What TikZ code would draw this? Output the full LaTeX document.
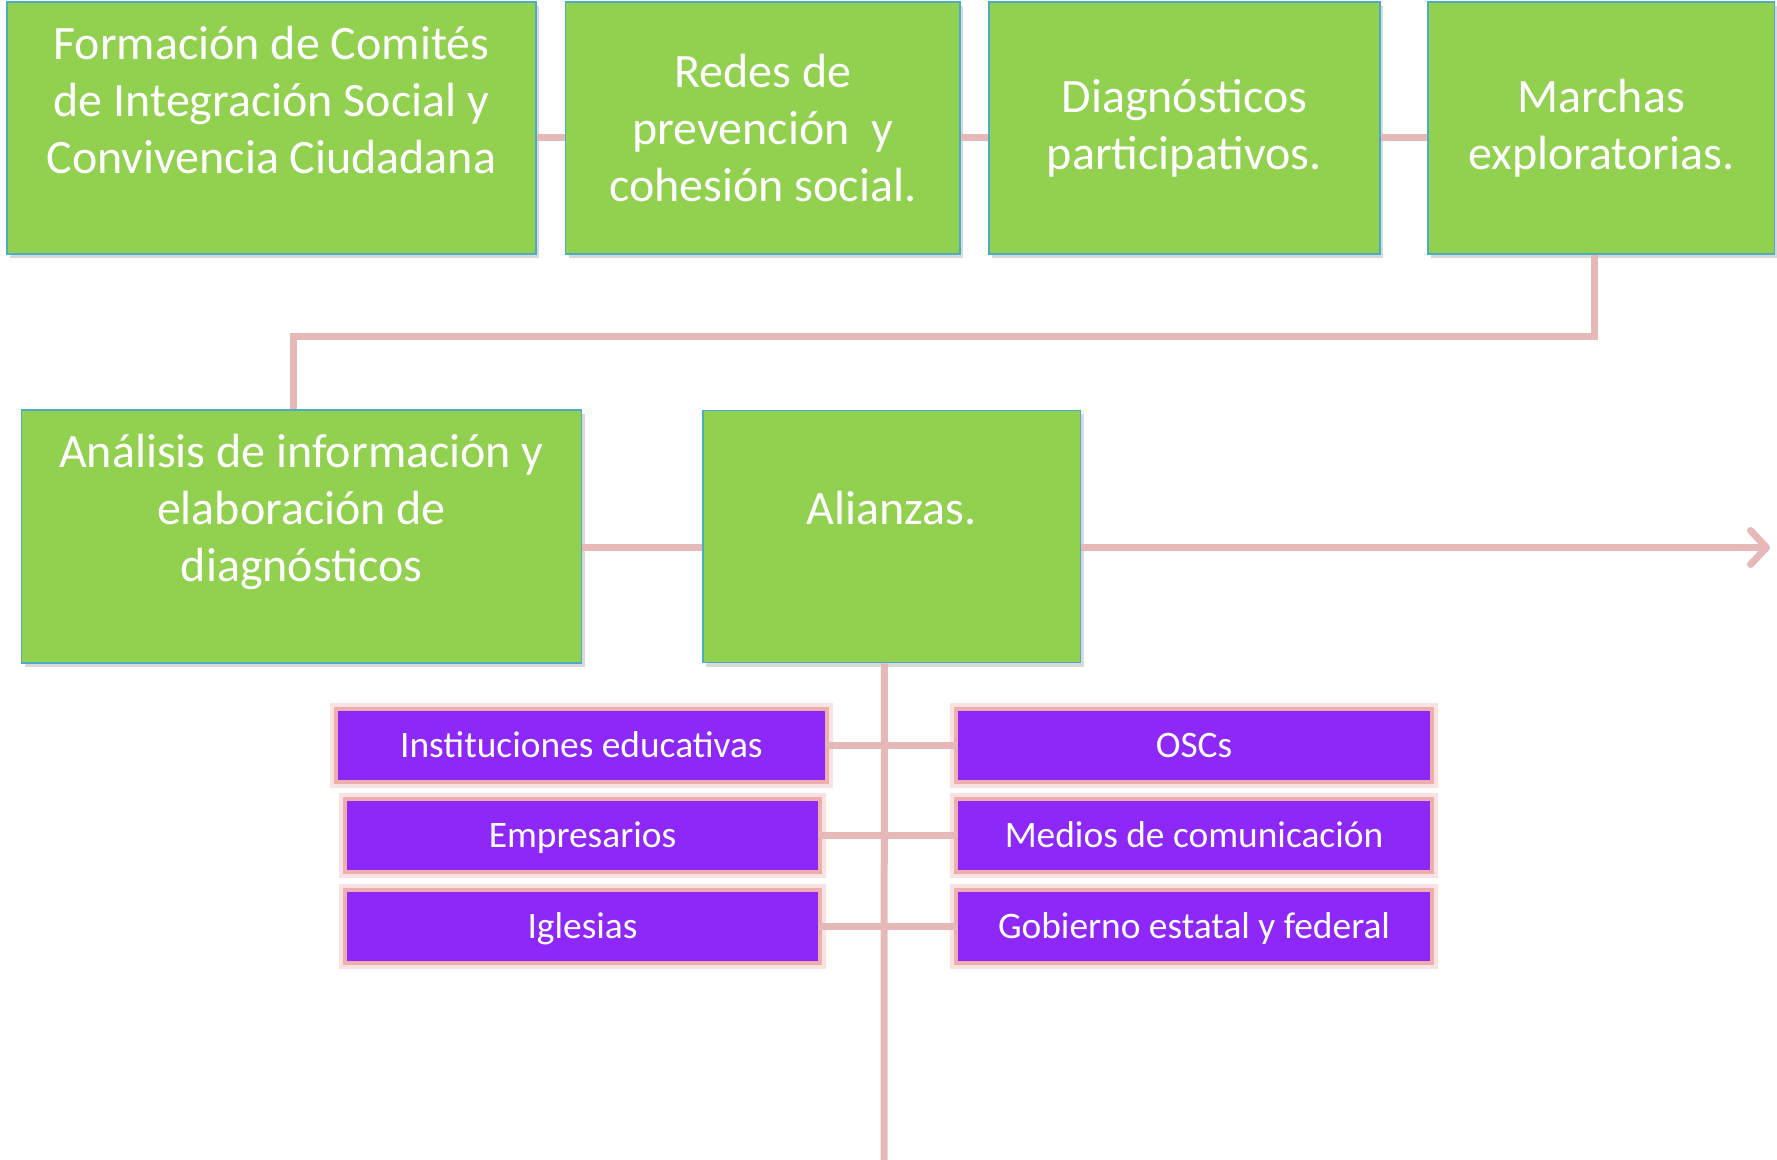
\documentclass[tikz,border=0pt]{standalone}
\usepackage{fontspec}
\setmainfont{Carlito}
\usetikzlibrary{arrows.meta,positioning,shadows}
\definecolor{leaf}{HTML}{92D050}
\definecolor{edgeblue}{HTML}{4BACC6}
\definecolor{grape}{HTML}{8E28F9}
\definecolor{rosy}{HTML}{E6B9B8}
\definecolor{glow}{HTML}{E06060}

\begin{document}
\begin{tikzpicture}[x=0.5pt,y=-0.5pt,node distance=15pt,
    greenbox/.style={rectangle, draw=edgeblue, fill=leaf, line width=0.8pt, text=white, align=center,
      inner sep=0pt, minimum height=125.9pt, font=\fontsize{24}{28.5}\selectfont,
      drop shadow={shadow xshift=1.5pt, shadow yshift=-2pt, opacity=.3}},
    purplebox/.style={rectangle, fill=grape, text=white, inner sep=0pt, minimum height=34.5pt,
      text height=12.2pt, text depth=0pt, font=\fontsize{18.7}{22}\selectfont,
      preaction={draw=glow, draw opacity=.18, line width=8pt},
      preaction={draw=glow, draw opacity=.4, line width=4pt}},
    link/.style={draw=rosy, line width=3.5pt}]
  \useasboundingbox (0,0) rectangle (1777,1160);

  % first row
  \node[greenbox, minimum width=264.6pt] (f1) at (271.4,128) {Formación de Comités\\de Integración Social y\\Convivencia Ciudadana\\~};
  \node[greenbox, minimum width=197.2pt] (f2) [right=14pt of f1] {Redes de\\prevención~ y\\cohesión social.};
  \node[greenbox, minimum width=195.5pt] (f3) [right=13.6pt of f2] {Diagnósticos\\participativos.};
  \node[greenbox, minimum width=173.4pt] (f4) [right=23.2pt of f3] {Marchas\\exploratorias.};

  % second row
  \node[greenbox, minimum width=280pt, minimum height=126.5pt] (ana) at (301.5,536.5) {Análisis de información y\\elaboración de\\diagnósticos\\~};
  \node[greenbox, minimum width=188.7pt, minimum height=126pt] (alz) [right=60pt of ana] {Alianzas.\\~};

  % allies
  \node[purplebox, minimum width=243.7pt] (ins) at (581.4,745) {Instituciones educativas};
  \node[purplebox, minimum width=235.7pt] (emp) at (582.5,835.5) {Empresarios};
  \node[purplebox, minimum width=235.7pt] (igl) at (582.5,926.5) {Iglesias};
  \node[purplebox, minimum width=236.3pt] (osc) at (1194,745) {OSCs};
  \node[purplebox, minimum width=236.3pt] (med) at (1194,835.5) {Medios de comunicación};
  \node[purplebox, minimum width=236.3pt] (gob) at (1194,926.5) {Gobierno estatal y federal};

  \coordinate (goal) at (1770,547.5);
  \coordinate (tail) at (884,1160);

  \draw[link] ([yshift=-5pt]f1.east) -- ([yshift=-5pt]f2.west);
  \draw[link] ([yshift=-5pt]f2.east) -- ([yshift=-5pt]f3.west);
  \draw[link] ([yshift=-5pt]f3.east) -- ([yshift=-5pt]f4.west);
  \draw[link] ([xshift=-3.4pt]f4.south) -- ++(0,81.5) -| ([xshift=-4pt]ana.north);
  \draw[link] ([yshift=-5.5pt]ana.east) -- ([yshift=-5.5pt]alz.west);
  \draw[link, -{Straight Barb[length=8pt,width=17pt,round]}] ([yshift=-5.5pt]alz.east) -- (goal);
  \draw[link] ([xshift=-3.7pt]alz.south) -- (tail);
  \draw[link] (ins.east) -- (osc.west);
  \draw[link] (emp.east) -- (med.west);
  \draw[link] (igl.east) -- (gob.west);
\end{tikzpicture}
\end{document}
